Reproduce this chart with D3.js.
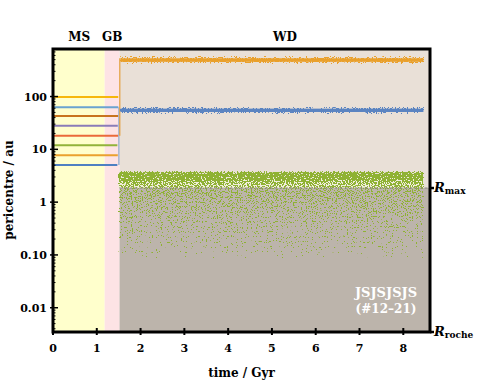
<!DOCTYPE html>
<html><head><meta charset="utf-8">
<script src="https://cdn.jsdelivr.net/npm/d3@7"></script>
<style>
html,body{margin:0;padding:0;background:#fff;}
svg{display:block;font-family:"DejaVu Serif",serif;font-weight:bold;}
</style></head>
<body>
<svg id="chart" width="491" height="382"></svg>
<script>
// ---- data ----
const stageNames = ["MS", "GB", "WD"];
const stageStart = [0, 1.18, 1.52];
const stageEnd = [1.18, 1.52, 8.61];
const msLineValues = [98, 63, 43, 28, 18.1, 11.9, 7.7, 5.05];
const msLineEnd = [1.49, 1.49, 1.49, 1.48, 1.49, 1.47, 1.48, 1.47];
const wdBandLo = [455, 51];
const wdBandHi = [530, 59];
const wdBandStart = 1.54;
const wdBandEnd = 8.46;
const greenBandTop = 3.8;
const greenScatterBottom = 0.085;
const Rmax = 1.85;
const Rroche = 0.00347;
const xTicks = [0, 1, 2, 3, 4, 5, 6, 7, 8];
const yTicks = [0.01, 0.1, 1, 10, 100];
const yTickLabels = ["0.01", "0.10", "1", "10", "100"];

// ---- styles ----
const msColors = ["#f6b70c", "#6aa3d0", "#c8731e", "#8a7cb8", "#ea6a3a", "#92b33a", "#eaa12e", "#4f80c2"];
const wdBandColors = ["#e9a02c", "#5b84c1"];
const green = "#8fb233";

const svg = d3.select("#chart");
const margin = {l: 53, r: 430, t: 49, b: 332};
const x = d3.scaleLinear().domain([0, 8.61]).range([margin.l, margin.r]);
const y = d3.scaleLog().domain([Rroche, 795]).range([margin.b, margin.t]);

const defs = svg.append("defs");
// speckle filter to render dense point clouds as texture
function speckle(id, freq, seed, color, gain, offset) {
  const f = defs.append("filter").attr("id", id)
    .attr("x", 0).attr("y", 0).attr("width", 1).attr("height", 1)
    .attr("color-interpolation-filters", "sRGB");
  f.append("feTurbulence").attr("type", "fractalNoise").attr("baseFrequency", freq)
    .attr("numOctaves", 1).attr("seed", seed).attr("result", "noise");
  f.append("feColorMatrix").attr("in", "noise").attr("type", "matrix")
    .attr("values", `0 0 0 0 0  0 0 0 0 0  0 0 0 0 0  ${gain} 0 0 0 ${offset}`).attr("result", "na");
  f.append("feComposite").attr("in", "na").attr("in2", "SourceGraphic").attr("operator", "arithmetic")
    .attr("k1", 0).attr("k2", 1).attr("k3", 1).attr("k4", -1).attr("result", "sum");
  const ct = f.append("feComponentTransfer").attr("in", "sum").attr("result", "th");
  ct.append("feFuncA").attr("type", "linear").attr("slope", 40).attr("intercept", 0);
  f.append("feFlood").attr("flood-color", color).attr("result", "col");
  f.append("feComposite").attr("in", "col").attr("in2", "th").attr("operator", "in");
}
speckle("spk", 0.75, 7, green, 3.2, -1.1);
speckle("spk2", 0.8, 11, green, 2, -0.5);
speckle("spkO", 0.8, 5, wdBandColors[0], 3.2, -1.1);
speckle("spkB", 0.8, 9, wdBandColors[1], 3.2, -1.1);

function grad(id, stops) {
  const g = defs.append("linearGradient").attr("id", id).attr("x1", 0).attr("y1", 0).attr("x2", 0).attr("y2", 1);
  stops.forEach(s => g.append("stop").attr("offset", s[0]).attr("stop-color", "#000").attr("stop-opacity", s[1]));
}
grad("gBand", [[0, 0.75], [0.15, 0.95], [0.5, 0.9], [0.7, 0.55], [1, 0.5]]);
grad("gSparse", [[0, 0.44], [0.2, 0.35], [0.45, 0.27], [0.7, 0.2], [0.88, 0.12], [1, 0.03]]);
grad("gFringe", [[0, 0.0], [0.3, 0.5], [0.5, 0.9], [0.7, 0.5], [1, 0.0]]);

// ---- backgrounds ----
svg.append("rect").attr("x", x(stageStart[0])).attr("y", margin.t)
  .attr("width", x(stageEnd[0]) - x(stageStart[0])).attr("height", margin.b - margin.t).attr("fill", "#ffffcc");
svg.append("rect").attr("x", x(stageStart[1])).attr("y", margin.t)
  .attr("width", x(stageEnd[1]) - x(stageStart[1])).attr("height", margin.b - margin.t).attr("fill", "#fde3e5");
svg.append("rect").attr("x", x(stageStart[2])).attr("y", margin.t)
  .attr("width", x(stageEnd[2]) - x(stageStart[2])).attr("height", y(Rmax) - margin.t).attr("fill", "#e9e0d7");
svg.append("rect").attr("x", x(stageStart[2])).attr("y", y(Rmax))
  .attr("width", x(stageEnd[2]) - x(stageStart[2])).attr("height", margin.b - y(Rmax)).attr("fill", "#bcb4ab");

// ---- green cloud ----
svg.append("rect").attr("x", x(wdBandStart) - 2).attr("y", y(greenBandTop) + 6)
  .attr("width", x(wdBandEnd) - x(wdBandStart) + 2).attr("height", y(Rmax) - y(greenBandTop) - 6)
  .attr("fill", "#f1eedb");
svg.append("rect").attr("x", x(wdBandStart) - 2).attr("y", y(greenBandTop))
  .attr("width", x(wdBandEnd) - x(wdBandStart) + 2).attr("height", y(Rmax) - y(greenBandTop))
  .attr("fill", "url(#gBand)").attr("filter", "url(#spk)");
svg.append("rect").attr("x", x(wdBandStart) - 2).attr("y", y(Rmax))
  .attr("width", x(wdBandEnd) - x(wdBandStart) + 2).attr("height", y(greenScatterBottom) - y(Rmax))
  .attr("fill", "url(#gSparse)").attr("filter", "url(#spk2)");

// Rmax dashed line
svg.append("line").attr("x1", x(stageStart[2])).attr("x2", margin.r)
  .attr("y1", y(Rmax)).attr("y2", y(Rmax))
  .attr("stroke", "#8c8680").attr("stroke-width", 1).attr("stroke-dasharray", "3,2");

// ---- MS lines ----
svg.append("g").selectAll("line").data(msLineValues).join("line")
  .attr("x1", x(0)).attr("x2", (d, i) => x(msLineEnd[i]))
  .attr("y1", d => y(d)).attr("y2", d => y(d))
  .attr("stroke", (d, i) => msColors[i]).attr("stroke-width", 2);

// transition smears
svg.append("line").attr("x1", x(1.505)).attr("x2", x(1.505))
  .attr("y1", y(msLineValues[7])).attr("y2", y(msLineValues[1]))
  .attr("stroke", "#7aa0c8").attr("stroke-width", 1.3).attr("opacity", 0.8);
svg.append("line").attr("x1", x(1.525)).attr("x2", x(1.525))
  .attr("y1", y(msLineValues[4])).attr("y2", y(wdBandHi[0]))
  .attr("stroke", "#e39a30").attr("stroke-width", 1.3).attr("opacity", 0.85);

// ---- WD bands ----
svg.append("g").selectAll("rect").data(wdBandLo).join("rect")
  .attr("x", x(wdBandStart)).attr("width", x(wdBandEnd) - x(wdBandStart))
  .attr("y", (d, i) => y(wdBandHi[i]) - 2).attr("height", (d, i) => y(d) - y(wdBandHi[i]) + 4)
  .attr("fill", "url(#gFringe)").attr("filter", (d, i) => i === 0 ? "url(#spkO)" : "url(#spkB)");
svg.append("g").selectAll("rect").data(wdBandLo).join("rect")
  .attr("x", x(wdBandStart)).attr("width", x(wdBandEnd) - x(wdBandStart))
  .attr("y", (d, i) => y(wdBandHi[i])).attr("height", (d, i) => y(d) - y(wdBandHi[i]))
  .attr("fill", (d, i) => wdBandColors[i]);

// ---- axes ----
const ax = svg.append("g").attr("fill", "none").attr("stroke", "#000");
ax.selectAll(".xt").data(xTicks).join("line")
  .attr("x1", d => x(d)).attr("x2", d => x(d)).attr("y1", margin.b - 4).attr("y2", margin.b + 3)
  .attr("stroke-width", 2);
const minor = [];
for (let e = -3; e <= 2; e++) for (let m = 2; m <= 9; m++) {
  const v = m * Math.pow(10, e);
  if (v > Rroche && v < 795) minor.push(v);
}
ax.selectAll(".ym").data(minor).join("line")
  .attr("x1", margin.l).attr("x2", margin.l + 2.5).attr("y1", d => y(d)).attr("y2", d => y(d))
  .attr("stroke-width", 1);
ax.selectAll(".yt").data(yTicks).join("line")
  .attr("x1", margin.l - 3).attr("x2", margin.l + 5).attr("y1", d => y(d)).attr("y2", d => y(d))
  .attr("stroke-width", 1.5);
ax.selectAll(".rt").data([Rmax, Rroche]).join("line")
  .attr("x1", margin.r).attr("x2", margin.r + 4).attr("y1", d => y(d)).attr("y2", d => y(d))
  .attr("stroke-width", 2.5);
ax.append("rect").attr("x", margin.l).attr("y", margin.t)
  .attr("width", margin.r - margin.l).attr("height", margin.b - margin.t).attr("stroke-width", 3);

// tick labels
svg.append("g").selectAll("text").data(xTicks).join("text")
  .attr("x", d => x(d)).attr("y", 352).attr("text-anchor", "middle")
  .attr("font-size", 11).text(d => d);
svg.append("g").selectAll("text").data(yTicks).join("text")
  .attr("x", margin.l - 6).attr("y", d => y(d) + 4).attr("text-anchor", "end")
  .attr("font-size", 11).text((d, i) => yTickLabels[i]);

// axis titles
svg.append("text").attr("x", (margin.l + margin.r) / 2).attr("y", 377).attr("text-anchor", "middle")
  .attr("font-size", 12).text("time / Gyr");
svg.append("text").attr("transform", "translate(13,190) rotate(-90)").attr("text-anchor", "middle")
  .attr("font-size", 12).text("pericentre / au");

// stage labels
const stageLabelT = [0.6, 1.35, 5.3];
svg.append("g").selectAll("text").data(stageNames).join("text")
  .attr("x", (d, i) => x(stageLabelT[i])).attr("y", 41).attr("text-anchor", "middle")
  .attr("font-size", 12).text(d => d);

// R labels
function rLabel(v, sub, dy) {
  const t = svg.append("text").attr("x", margin.r + 4).attr("y", y(v) + dy).attr("font-size", 13);
  t.append("tspan").attr("font-style", "italic").text("R");
  t.append("tspan").attr("font-size", 9).attr("dy", 2).text(sub);
}
rLabel(Rmax, "max", 4);
rLabel(Rroche, "roche", 4);

// sample label
svg.append("text").attr("x", 386).attr("y", 297).attr("text-anchor", "middle")
  .attr("fill", "#fff").attr("font-size", 13).text("JSJSJSJS");
svg.append("text").attr("x", 386).attr("y", 313).attr("text-anchor", "middle")
  .attr("fill", "#fff").attr("font-size", 12).text("(#12–21)");
</script>
</body></html>
